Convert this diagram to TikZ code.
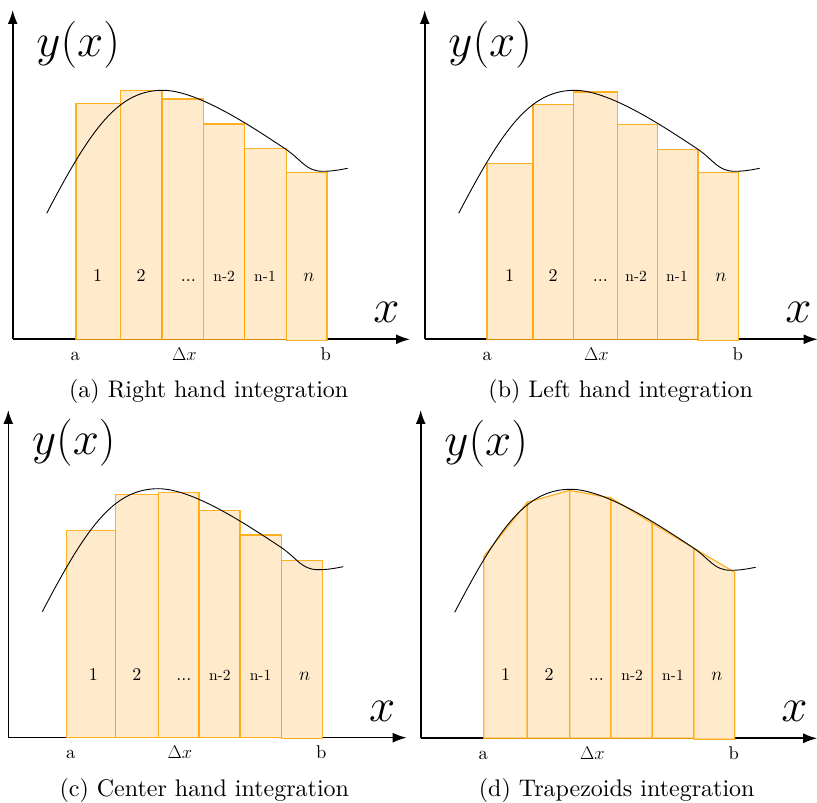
\RequirePackage{fix-cm}
\documentclass[tikz,border=0pt]{standalone}
\usepackage[no-math]{fontspec}
\setmainfont{lmroman10-regular.otf}
\usetikzlibrary{arrows.meta}
\definecolor{orng}{HTML}{FFA500}
\definecolor{barfill}{HTML}{FFEBCC}
\tikzset{
  axisline/.style={line width=1.6pt, -{Latex[length=14pt,width=10pt]}},
  bar/.style={fill=barfill, draw=orng, draw opacity=0.85, line width=1.2pt, line join=miter},
  fn/.style={line width=0.9pt, black},
  biglab/.style={font=\fontsize{47}{51}\selectfont, inner sep=0pt, anchor=base west},
  numlab/.style={font=\fontsize{18}{21}\selectfont, inner sep=0pt, anchor=base},
  mathlab/.style={font=\fontsize{19}{22}\selectfont, inner sep=0pt, anchor=base},
  smlab/.style={font=\fontsize{15.5}{18}\selectfont, inner sep=0pt, anchor=base},
  axlab/.style={font=\fontsize{18.5}{21}\selectfont, inner sep=0pt, anchor=base},
  caplab/.style={font=\fontsize{24}{28}\selectfont, inner sep=0pt, anchor=base},
}
\newcommand\drawaxes[3]{%
  \coordinate (#1-o) at (0,0);
  \coordinate (#1-xe) at (#2,0);
  \coordinate (#1-ye) at (0,#3);
  \draw[axisline] (#1-o) -- (#1-xe);
  \draw[axisline] (#1-o) -- (#1-ye);
}
\newcommand\drawcurve[1]{%
  \draw[fn] (34,126) .. controls (78,210) and (105,249) .. (150,249)
            .. controls (185,249) and (240,212) .. (272.5,190.5)
            .. controls (289,179.5) and (293,168) .. (310,168)
            .. controls (320,168) and (327,169.5) .. (335,171);
}
\newcommand\drawlabels[2]{%
  \node[biglab] (#1-yx) at (23.5,283) {$y(x)$};
  \node[biglab] (#1-xl) at (360.5,16.3) {$x$};
  \node[numlab] (#1-l1) at (85,57.5) {1};
  \node[numlab] (#1-l2) at (128.5,57.5) {2};
  \node[numlab] (#1-l3) at (175.6,57.5) {...};
  \node[smlab] (#1-l4) at (211.5,57.5) {n-2};
  \node[smlab] (#1-l5) at (252.3,57.5) {n-1};
  \node[mathlab] (#1-l6) at (296.3,57.5) {$n$};
  \node[axlab] (#1-a) at (62.5,-21) {a};
  \node[axlab] (#1-dx) at (171.6,-21) {$\Delta x$};
  \node[axlab] (#1-b) at (313,-21) {b};
  \node[caplab] (#1-cap) at (196,-58.5) {#2};
}
\begin{document}
\begin{tikzpicture}[x=1pt,y=1pt]
\useasboundingbox (0,0) rectangle (817,803);

% (a) Right hand integration
\begin{scope}[shift={(12.7,463.7)}]
  \drawaxes{pa}{397.3}{329.3}
  \draw[bar] (63.3,0) rectangle (107.6,236);
  \draw[bar] (107.6,0) rectangle (149.3,249);
  \draw[bar] (149.3,0) rectangle (190.6,240.3);
  \draw[bar] (190.6,0) rectangle (232,215.3);
  \draw[bar] (232,0) rectangle (273.6,190.6);
  \draw[bar] (273.6,-1) rectangle (314.3,167);
  \drawcurve{pa}
  \drawlabels{pa}{(a) Right hand integration}
\end{scope}

% (b) Left hand integration
\begin{scope}[shift={(424.7,463.7)}]
  \drawaxes{pb}{393}{329.3}
  \draw[bar] (62.3,0) rectangle (108.3,176);
  \draw[bar] (108.3,0) rectangle (149,235);
  \draw[bar] (149,0) rectangle (192.6,247.3);
  \draw[bar] (192.6,0) rectangle (232.6,215);
  \draw[bar] (232.6,0) rectangle (273.3,189.6);
  \draw[bar] (273.3,-1) rectangle (314,167);
  \drawcurve{pb}
  \drawlabels{pb}{(b) Left hand integration}
\end{scope}

% (c) Center hand integration
\begin{scope}[shift={(8.3,65.3)}]
  \drawaxes{pc}{398.4}{327.7}
  \draw[bar] (58.4,0) rectangle (107.4,207);
  \draw[bar] (107.4,0) rectangle (150,243);
  \draw[bar] (150,0) rectangle (190.7,245);
  \draw[bar] (190.7,0) rectangle (231.7,227.4);
  \draw[bar] (231.7,0) rectangle (273.4,202.7);
  \draw[bar] (273.4,-1) rectangle (314,177.4);
  \drawcurve{pc}
  \drawlabels{pc}{(c) Center hand integration}
\end{scope}

% (d) Trapezoids integration
\begin{scope}[shift={(420.7,64.7)}]
  \drawaxes{pd}{396.5}{328.3}
  \draw[bar] (63,0) -- (63,181.6) -- (106.6,236) -- (106.6,0) -- cycle;
  \draw[bar] (106.6,0) -- (106.6,236) -- (149,248) -- (149,0) -- cycle;
  \draw[bar] (149,0) -- (149,248) -- (190.3,240.3) -- (190.3,0) -- cycle;
  \draw[bar] (190.3,0) -- (190.3,240.3) -- (231.6,215) -- (231.6,0) -- cycle;
  \draw[bar] (231.6,0) -- (231.6,215) -- (273.3,190) -- (273.3,0) -- cycle;
  \draw[bar] (273.3,-1) -- (273.3,190) -- (314,166) -- (314,-1) -- cycle;
  \drawcurve{pd}
  \drawlabels{pd}{(d) Trapezoids integration}
\end{scope}
\end{tikzpicture}
\end{document}
